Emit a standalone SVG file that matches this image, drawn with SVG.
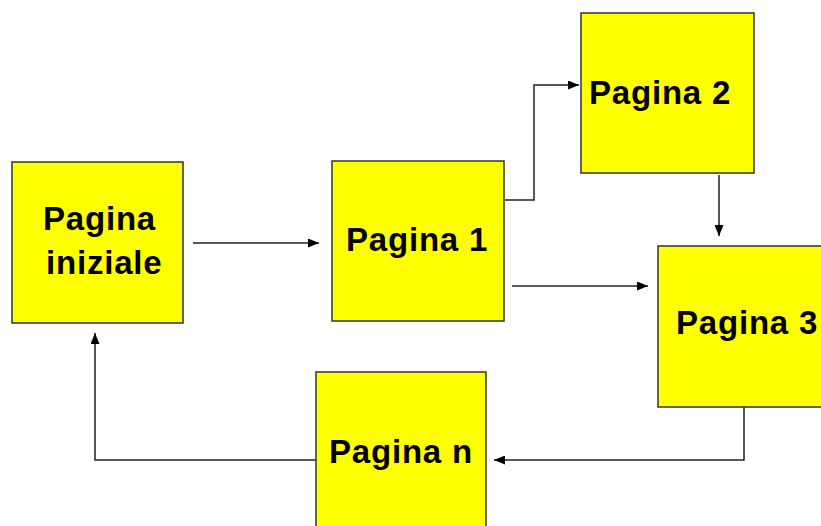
<svg xmlns="http://www.w3.org/2000/svg" width="821" height="526" viewBox="0 0 821 526">
<style>
.box{fill:#FFFF00;stroke:#333;stroke-width:1.5}
.lbl{font-family:"Liberation Sans",Arial,sans-serif;font-weight:bold;font-size:33px;letter-spacing:0.8px;fill:#000}
.con{fill:none;stroke:#222;stroke-width:1.5}
</style>
<defs>
<marker id="ah" markerWidth="11" markerHeight="9" refX="11" refY="4.5" orient="auto" markerUnits="userSpaceOnUse">
<path d="M0,0 L11,4.5 L0,9 Z" fill="#000"/>
</marker>
</defs>
<rect width="821" height="526" fill="#fff"/>
<g id="connectors">
<path class="con" d="M193,243 H319" marker-end="url(#ah)"/>
<path class="con" d="M505,200 H534 V85 H579" marker-end="url(#ah)"/>
<path class="con" d="M719,175 V236" marker-end="url(#ah)"/>
<path class="con" d="M512,286 H648" marker-end="url(#ah)"/>
<path class="con" d="M744,407 V460 H494" marker-end="url(#ah)"/>
<path class="con" d="M316,460 H95 V333" marker-end="url(#ah)"/>
</g>
<g id="pagina-iniziale">
<rect class="box" x="12" y="162" width="171" height="161"/>
<text class="lbl" x="43" y="230">Pagina</text>
<text class="lbl" x="46" y="274">iniziale</text>
</g>
<g id="pagina-1">
<rect class="box" x="332" y="161" width="172" height="160"/>
<text class="lbl" x="346" y="251">Pagina 1</text>
</g>
<g id="pagina-2">
<rect class="box" x="581" y="13" width="173" height="160"/>
<text class="lbl" x="589" y="104">Pagina 2</text>
</g>
<g id="pagina-3">
<rect class="box" x="658" y="246" width="172" height="161"/>
<text class="lbl" x="676" y="334">Pagina 3</text>
</g>
<g id="pagina-n">
<rect class="box" x="316" y="372" width="170" height="160"/>
<text class="lbl" x="329" y="463">Pagina n</text>
</g>
</svg>
